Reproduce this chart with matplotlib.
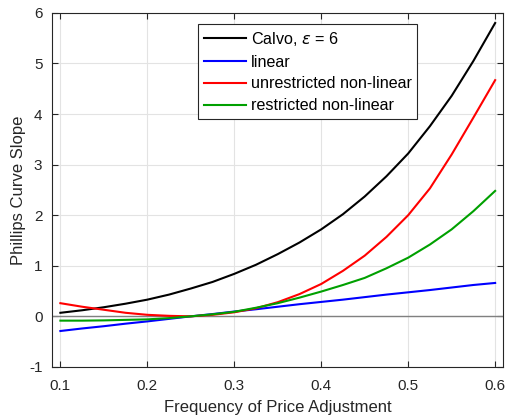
import matplotlib
matplotlib.use("Agg")
import matplotlib.pyplot as plt

# frequency of price adjustment
freq = [0.100, 0.125, 0.150, 0.175, 0.200, 0.225, 0.250, 0.275, 0.300, 0.325,
        0.350, 0.375, 0.400, 0.425, 0.450, 0.475, 0.500, 0.525, 0.550, 0.575, 0.600]

calvo = [0.07, 0.12, 0.18, 0.25, 0.33, 0.43, 0.55, 0.68, 0.84, 1.02,
         1.23, 1.46, 1.72, 2.02, 2.37, 2.77, 3.22, 3.76, 4.36, 5.05, 5.80]
linear = [-0.29, -0.24, -0.195, -0.145, -0.10, -0.05, 0.0, 0.045, 0.095, 0.14,
          0.19, 0.24, 0.285, 0.33, 0.38, 0.43, 0.475, 0.52, 0.57, 0.62, 0.66]
unrestricted = [0.26, 0.19, 0.13, 0.07, 0.03, 0.01, 0.0, 0.03, 0.08, 0.16,
                0.28, 0.44, 0.64, 0.90, 1.20, 1.57, 2.00, 2.53, 3.20, 3.93, 4.67]
restricted = [-0.085, -0.085, -0.08, -0.07, -0.06, -0.035, 0.0, 0.04, 0.09, 0.17,
              0.26, 0.37, 0.49, 0.62, 0.76, 0.95, 1.16, 1.42, 1.72, 2.08, 2.48]

x_ticks = [0.1, 0.2, 0.3, 0.4, 0.5, 0.6]
y_ticks = [-1, 0, 1, 2, 3, 4, 5, 6]

plt.rcParams["font.family"] = ["Liberation Sans", "DejaVu Sans"]
plt.rcParams["axes.unicode_minus"] = False
dark = "#262626"

fig = plt.figure(figsize=(5.06, 4.16), dpi=100)
ax = fig.add_axes([0.103, 0.118, 0.891, 0.851])

ax.axhline(0, color="#808080", lw=1.0, zorder=1)
ax.plot(freq, calvo, color="black", lw=1.5, label=r"Calvo, $\epsilon$ = 6", zorder=3)
ax.plot(freq, linear, color="#0000ff", lw=1.5, label="linear", zorder=3)
ax.plot(freq, unrestricted, color="#ff0000", lw=1.5, label="unrestricted non-linear", zorder=3)
ax.plot(freq, restricted, color="#00a000", lw=1.5, label="restricted non-linear", zorder=3)

ax.set_xlim(0.0905, 0.609)
ax.set_ylim(-1, 6)
ax.set_xticks(x_ticks)
ax.set_xticklabels([f"{t:g}" for t in x_ticks])
ax.set_yticks(y_ticks)
ax.grid(True, color="#e3e3e3", lw=0.8)
ax.set_axisbelow(True)

ax.tick_params(direction="in", top=True, right=True, length=4, width=0.8,
               colors=dark, labelsize=11)
ax.tick_params(axis="x", pad=9)
ax.tick_params(axis="y", pad=7)
for s in ax.spines.values():
    s.set_color(dark)
    s.set_linewidth(0.8)

ax.set_xlabel("Frequency of Price Adjustment", fontsize=12, color=dark, labelpad=5)
ax.set_ylabel("Phillips Curve Slope", fontsize=12, color=dark, labelpad=2)

leg = ax.legend(loc="upper left", bbox_to_anchor=(0.324, 0.968), fontsize=11.6,
                frameon=True, fancybox=False, handlelength=2.6, handletextpad=0.3,
                borderpad=0.35, labelspacing=0.42, borderaxespad=0)
leg.get_frame().set_edgecolor(dark)
leg.get_frame().set_linewidth(0.8)
leg.get_frame().set_alpha(1)
for t in leg.get_texts():
    t.set_color("black")

fig.savefig("out.png", dpi=100)
